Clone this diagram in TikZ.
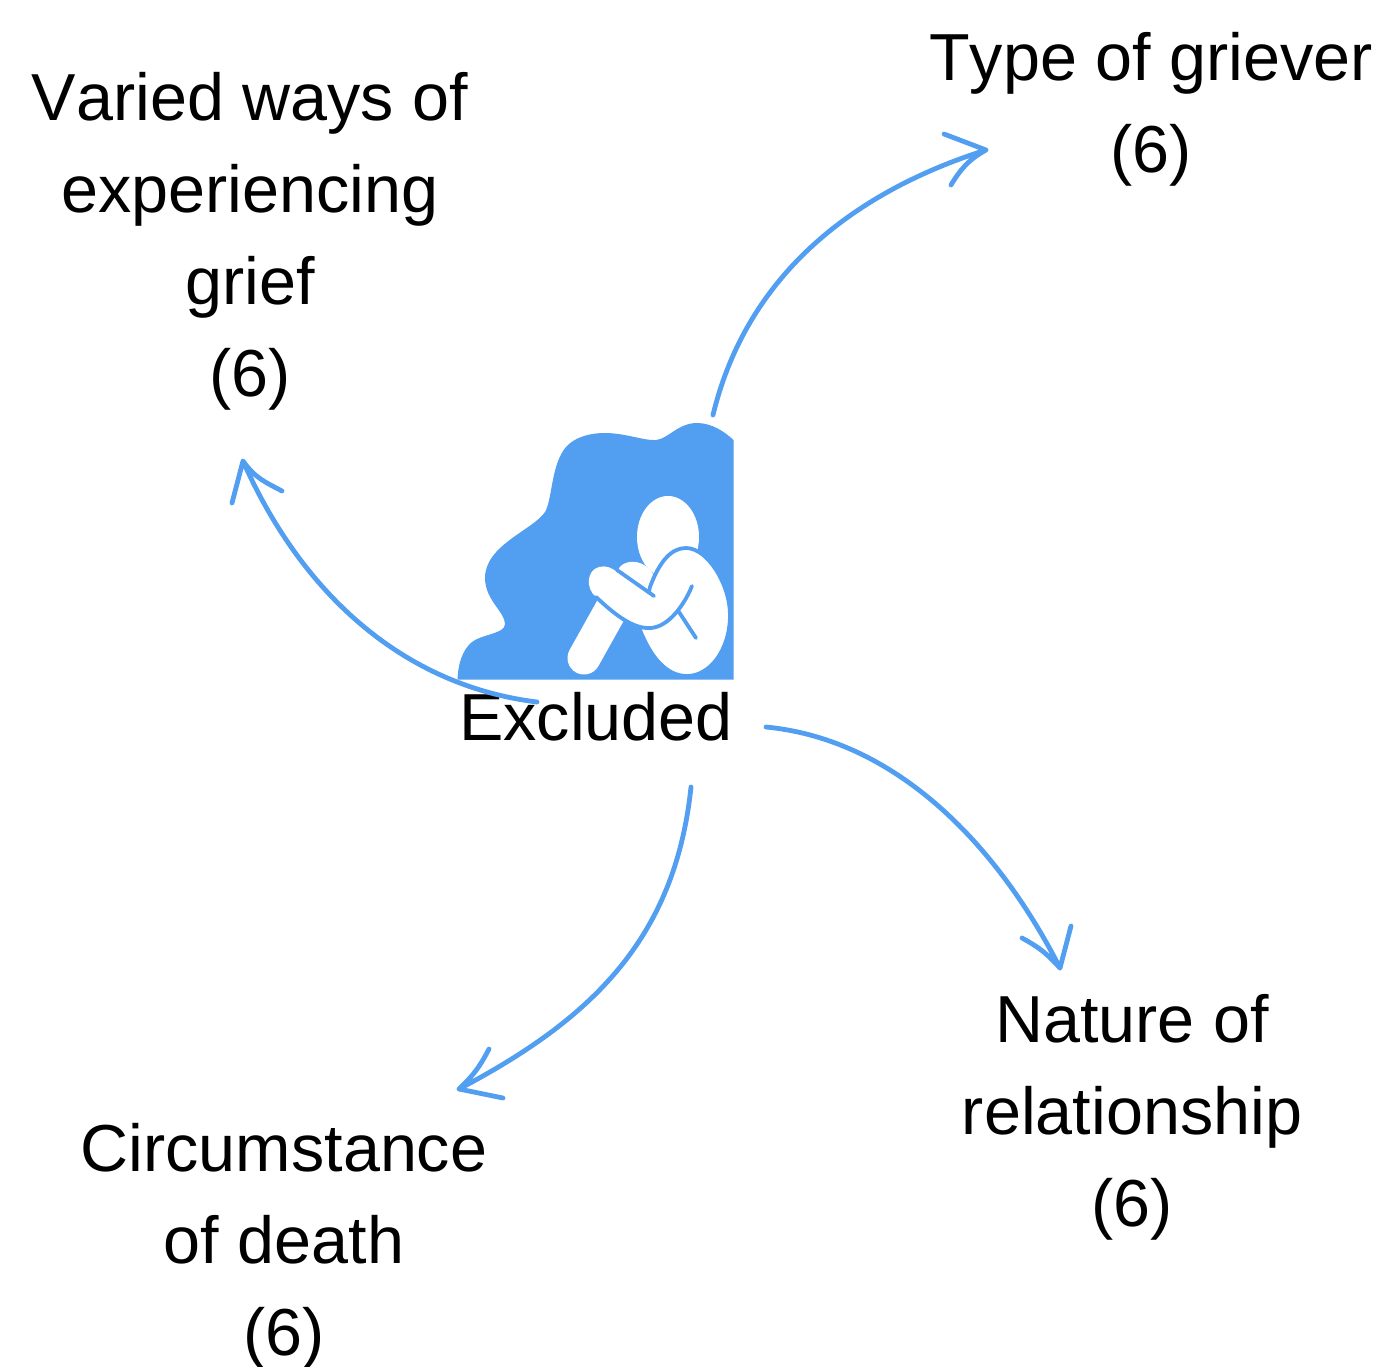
\documentclass[tikz,border=0pt]{standalone}
\usepackage{fontspec}
\setmainfont[Kerning=Off]{Liberation Sans}
\definecolor{griefblue}{HTML}{529EF1}
\tikzset{
  lab/.style={align=center,inner sep=0pt,anchor=base,font=\fontsize{66.5}{92}\selectfont,text=black},
  link/.style={draw=griefblue,line width=4.8pt,line cap=round,line join=round},
  detail/.style={draw=griefblue,line width=3.8pt,line cap=round,line join=round}
}
\begin{document}
\begin{tikzpicture}[x=1pt,y=-1pt]
\useasboundingbox (0,0) rectangle (1387,1366);
% backdrop blob
\fill[griefblue] (457.5,679.5) .. controls (458,665) and (462,650) .. (472,642)
  .. controls (482,634) and (505,634) .. (505,624)
  .. controls (505,612) and (485,600) .. (485,578)
  .. controls (485,545) and (533,530) .. (545,512)
  .. controls (552,500) and (551,470) .. (563,451)
  .. controls (572,437) and (590,433) .. (605,433)
  .. controls (625,433) and (645,441) .. (656,440)
  .. controls (668,439) and (678,423) .. (697,423)
  .. controls (712,423) and (725,432) .. (733.5,440)
  -- (733.5,679.5) -- cycle;
% figure
\fill[white] (668,537) ellipse [x radius=31,y radius=41];
\draw[white,line width=33pt,line cap=round] (584,658) -- (622,590);
\fill[white] (618,570) .. controls (622,560) and (640,558) .. (650,570) -- (665,590) -- (650,610) -- cycle;
\path[fill=white,draw=griefblue,line width=3.8pt]
  (650,587) .. controls (660,560) and (672,548) .. (686,548)
  .. controls (708,548) and (730,585) .. (730,615)
  .. controls (730,650) and (710,676) .. (687,676)
  .. controls (665,676) and (650,655) .. (640,630) -- cycle;
\path[fill=white] (599,567) .. controls (606,565) and (612,568) .. (617,572)
  -- (654,597) .. controls (660,600) and (680,590) .. (692,586)
  .. controls (682,610) and (665,629) .. (648,628)
  .. controls (630,628) and (610,610) .. (596,597)
  .. controls (585,588) and (587,570) .. (599,567) -- cycle;
\draw[detail] (617,570) -- (654,596);
\draw[detail] (692,586) .. controls (682,610) and (665,629) .. (648,628)
  .. controls (630,628) and (610,610) .. (596,597);
\draw[detail] (679,612) -- (696,638);
% labels
\node[lab] (griever) at (1151,172) {Type of griever\\(6)};
\node[lab] (varied) at (250,396) {Varied ways of\\experiencing\\grief\\(6)};
\node[lab] (excluded) at (596,740) {Excluded};
\node[lab] (nature) at (1132,1226) {Nature of\\relationship\\(6)};
\node[lab] (circ) at (284,1355) {Circumstance\\of death\\(6)};
% connector ends
\coordinate (s1) at (713,415); \coordinate (e1) at (986,150);
\coordinate (s2) at (537,702); \coordinate (e2) at (243,461);
\coordinate (s3) at (766,727); \coordinate (e3) at (1060,968);
\coordinate (s4) at (691,787); \coordinate (e4) at (459,1089);
\draw[link] (s1) .. controls (748,270) and (860,190) .. (e1)
  (944,134) -- (e1) .. controls (968,160) and (960,170) .. (951,185);
\draw[link] (s2) .. controls (400,685) and (300,590) .. (e2)
  (232,503) -- (e2) .. controls (255,478) and (265,482) .. (282,491);
\draw[link] (s3) .. controls (900,740) and (1000,850) .. (e3)
  (1071,926) -- (e3) .. controls (1045,952) and (1040,948) .. (1022,938);
\draw[link] (s4) .. controls (675,940) and (590,1020) .. (e4)
  (503,1098) -- (e4) .. controls (477,1072) and (482,1062) .. (489,1049);
\end{tikzpicture}
\end{document}
